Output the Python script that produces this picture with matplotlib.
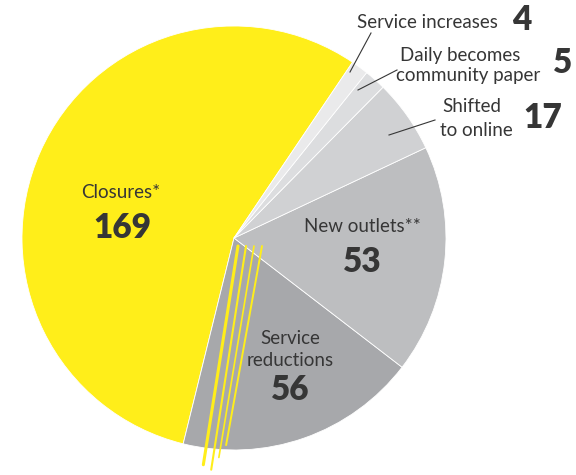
import numpy as np
import matplotlib.pyplot as plt

# data, counter-clockwise from the top of the yellow slice
labels = ["Closures*", "Service\nreductions", "New outlets**", "Shifted\nto online",
          "Daily becomes\ncommunity paper", "Service increases"]
values = [169, 56, 53, 17, 5, 4]
colors = ["#FFEE1A", "#A7A8AB", "#BDBEC0", "#D0D1D3", "#DCDDDF", "#EAEAEB"]

W, H = 576, 475
cx, cy, R = 234, H - 238, 212
ink = "#363636"
font = "Lato"

fig = plt.figure(figsize=(W / 100, H / 100), dpi=100)
ax = fig.add_axes([0, 0, 1, 1])

ax.pie(values, colors=colors, startangle=56, counterclock=True,
       radius=R, center=(cx, cy), frame=True,
       wedgeprops=dict(edgecolor="white", linewidth=0.6))
ax.set_xlim(0, W)
ax.set_ylim(0, H)
ax.set_aspect("equal")
ax.axis("off")

# sketchy yellow strokes spilling over the closures / reductions edge
for dx0, ang, r1, lw in [(4, 262, 1.08, 2.2), (12, 263.5, 1.1, 1.5),
                         (20, 264.5, 1.04, 1.2), (28, 265.5, 0.98, 1.4)]:
    a = np.deg2rad(ang)
    ax.plot([cx + dx0, cx + r1 * R * np.cos(a) + dx0 * 0.3],
            [cy - 8, cy + r1 * R * np.sin(a)],
            color=colors[0], lw=lw, solid_capstyle="round", zorder=3)

def txt(x, y, s, size, weight="normal", ha="center"):
    ax.text(x, H - y, s, fontsize=size, fontweight=weight, color=ink,
            ha=ha, va="center", family=font, linespacing=1.0, zorder=5)

lab = 13.5
num = 24

# inside labels
txt(121, 193, labels[0], lab)
txt(122, 228, str(values[0]), num, "heavy")
for i, line in enumerate(labels[1].split("\n")):
    txt(290, 338 + 23 * i, line, lab)
txt(290, 390, str(values[1]), num, "heavy")
txt(362, 227, labels[2], lab)
txt(362, 262, str(values[2]), num, "heavy")

# outside labels with leaders
txt(427, 22, labels[5], lab)
txt(522, 20, str(values[5]), num, "heavy")
for i, line in enumerate(labels[4].split("\n")):
    txt(460 + 8 * i, 55 + 21 * i, line, lab)
txt(563, 63, str(values[4]), num, "heavy")
for i, line in enumerate(labels[3].split("\n")):
    txt(472 + 4 * i, 107 + 23 * i, line, lab)
txt(543, 118, str(values[3]), num, "heavy")

for x0, y0, x1, y1 in [(350, 72, 371, 33), (358, 90, 397, 70), (389, 135, 435, 120)]:
    ax.plot([x0, x1], [H - y0, H - y1], color=ink, lw=0.8, zorder=4)

fig.savefig("out.png", dpi=100)
